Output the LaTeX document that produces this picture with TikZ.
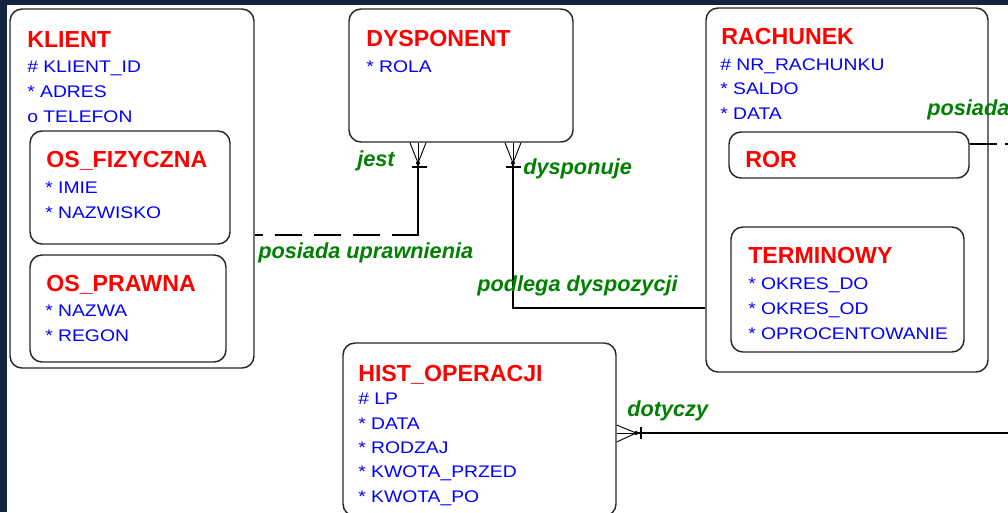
\documentclass[tikz,border=0pt]{standalone}
\usepackage{fontspec}
\setmainfont{Liberation Sans}
\newfontfamily\attrfont[FakeStretch=1.15]{Liberation Sans}
\usetikzlibrary{fit}
\definecolor{navy}{RGB}{18,36,62}
\definecolor{relgreen}{RGB}{0,128,0}
\definecolor{linegray}{RGB}{40,40,40}
\tikzset{
  ebox/.style={draw=linegray, line width=1.1pt, rounded corners=9pt, inner sep=0pt, fill=white},
  ttl/.style={anchor=base west, inner sep=0pt, text=red, font=\fontsize{17.4}{20}\selectfont\bfseries},
  att/.style={anchor=base west, inner sep=0pt, text=blue, font=\attrfont\fontsize{12.6}{15}\selectfont},
  rel/.style={anchor=base west, inner sep=0pt, text=relgreen, font=\fontsize{16.3}{19}\selectfont\bfseries\itshape},
  conn/.style={draw=black, line width=0.9pt},
  prong/.style={draw=black, line width=0.7pt},
}
\begin{document}
\begin{tikzpicture}[x=0.75pt,y=-0.75pt]
\useasboundingbox (0,0) rectangle (1008,512);
\clip (0,0) rectangle (1008,512);
\fill[navy] (0,0) rectangle (1008,512);
\fill[white] (7,5) rectangle (1008,512);

% ---------- KLIENT ----------
\node[ebox, fit={(10,9) (254,368)}] (klient) {};
\node[ttl] (klientT) at (27,47) {KLIENT};
\node[att] (k1) at (27,72) {\# KLIENT\_ID};
\node[att] (k2) at (27,97) {* ADRES};
\node[att] (k3) at (27,122) {o TELEFON};
\node[ebox, fit={(30,131) (230,244)}] (osf) {};
\node[ttl] (osfT) at (46,167) {OS\_FIZYCZNA};
\node[att] (f1) at (45,193) {* IMIE};
\node[att] (f2) at (45,218) {* NAZWISKO};
\node[ebox, fit={(30,255) (226,362)}] (osp) {};
\node[ttl] (ospT) at (46,291) {OS\_PRAWNA};
\node[att] (p1) at (45,316) {* NAZWA};
\node[att] (p2) at (45,341) {* REGON};

% ---------- DYSPONENT ----------
\node[ebox, fit={(349,9) (573,142)}] (dysp) {};
\node[ttl] (dyspT) at (366,46) {DYSPONENT};
\node[att] (d1) at (366,72) {* ROLA};

% ---------- RACHUNEK ----------
\node[ebox, fit={(706,8) (988,372)}] (rach) {};
\node[ttl] (rachT) at (721,44) {RACHUNEK};
\node[att] (r1) at (720,70) {\# NR\_RACHUNKU};
\node[att] (r2) at (720,94) {* SALDO};
\node[att] (r3) at (720,119) {* DATA};
\node[ebox, fit={(729,132) (969,178)}] (ror) {};
\node[ttl] (rorT) at (745,167) {ROR};
\node[ebox, fit={(731,227) (964,352)}] (term) {};
\node[ttl] (termT) at (748,263) {TERMINOWY};
\node[att] (t1) at (748,289) {* OKRES\_DO};
\node[att] (t2) at (748,314) {* OKRES\_OD};
\node[att] (t3) at (748,339) {* OPROCENTOWANIE};

% ---------- HIST_OPERACJI ----------
\node[ebox, fit={(343,343) (616,516)}] (hist) {};
\node[ttl] (histT) at (358,381) {HIST\_OPERACJI};
\node[att] (h1) at (358,404) {\# LP};
\node[att] (h2) at (358,429) {* DATA};
\node[att] (h3) at (358,453) {* RODZAJ};
\node[att] (h4) at (358,477) {* KWOTA\_PRZED};
\node[att] (h5) at (358,502) {* KWOTA\_PO};

% ---------- jest / posiada uprawnienia ----------
\coordinate (jdot) at (418,163);
\coordinate (jturn) at (418,235);
\coordinate (jmid) at (392,235);
\draw[prong] (dysp.south -| 410,0) -- (jdot);
\draw[prong] (dysp.south -| 426,0) -- (jdot);
\draw[prong] (dysp.south -| jdot) -- (jdot);
\fill (jdot) circle (1.5pt);
\draw[conn] (412,167) -- (427,167);
\draw[conn] (jdot) -- (jturn) -- (jmid);
\draw[conn, dash pattern=on 20.25pt off 9pt, dash phase=20.25pt] (jmid) -- (klient.east |- jmid);
\node[rel] (ljest) at (357,166) {jest};
\node[rel] (lposu) at (258,258) {posiada uprawnienia};

% ---------- dysponuje / podlega dyspozycji ----------
\coordinate (ddot) at (513,163);
\coordinate (dturn) at (513,308);
\draw[prong] (dysp.south -| 505,0) -- (ddot);
\draw[prong] (dysp.south -| 521,0) -- (ddot);
\draw[prong] (dysp.south -| ddot) -- (ddot);
\fill (ddot) circle (1.5pt);
\draw[conn] (506,167) -- (521,167);
\draw[conn] (ddot) -- (dturn) -- (dturn -| rach.west);
\node[rel] (ldysp) at (523,174) {dysponuje};
\node[rel] (lpodl) at (477,291) {podlega dyspozycji};

% ---------- posiada (ROR) ----------
\coordinate (rorend) at (997,144);
\coordinate (rordash) at (1005,144);
\coordinate (rorfar) at (1030,144);
\draw[conn] (ror.east |- rorend) -- (rorend);
\draw[conn] (rordash) -- (rorfar);
\node[rel] (lpos) at (927,115) {posiada};

% ---------- dotyczy ----------
\coordinate (hdot) at (636,433);
\coordinate (hfar) at (1030,433);
\draw[prong] (hist.east |- 0,425) -- (hdot);
\draw[prong] (hist.east |- 0,442) -- (hdot);
\draw[prong] (hist.east |- hdot) -- (hdot);
\fill (hdot) circle (1.5pt);
\draw[conn] (641,427) -- (641,439);
\draw[conn] (hdot) -- (hfar);
\node[rel] (ldot) at (627,416) {dotyczy};
\end{tikzpicture}
\end{document}
